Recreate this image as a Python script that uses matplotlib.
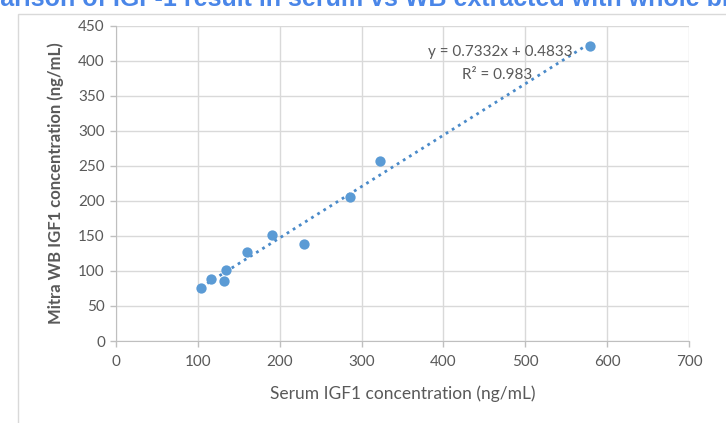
import matplotlib.pyplot as plt
from matplotlib.patches import Rectangle
import numpy as np

plt.rcParams['font.family'] = ['Lato', 'DejaVu Sans']

# serum vs whole-blood IGF1 (ng/mL)
serum_igf1 = [104, 116, 132, 134, 160, 191, 230, 286, 322, 579]
wb_igf1 = [76, 88, 86, 101, 127, 151, 139, 206, 257, 421]

x_ticks = [0, 100, 200, 300, 400, 500, 600, 700]
y_ticks = [0, 50, 100, 150, 200, 250, 300, 350, 400, 450]

slope, intercept = 0.7332, 0.4833
eq_text = "y = 0.7332x + 0.4833"
r2_text = "R² = 0.983"

grey = '#595959'
grid_col = '#d9d9d9'
blue = '#5b9bd5'

fig = plt.figure(figsize=(7.26, 4.23), dpi=100)

# chart border + cut-off slide title
fig.patches.append(Rectangle((18 / 726, -0.1), 1.2, 1 - 14 / 423 + 0.1,
                             transform=fig.transFigure, fill=False,
                             edgecolor='#d9d9d9', linewidth=1))
fig.text(-0.02, 1 - 6 / 423, "parison of IGF-1 result in serum vs WB extracted with whole bl",
         ha='left', va='baseline', fontsize=18, fontweight='bold', color='#4a86e8',
         family=['Liberation Sans', 'DejaVu Sans'])

ax = fig.add_axes([116 / 726, 1 - 341 / 423, (689 - 116) / 726, (341 - 25.7) / 423])

ax.scatter(serum_igf1, wb_igf1, s=55, color=blue, zorder=3, linewidths=0)

xs = np.array([min(serum_igf1), max(serum_igf1)])
ax.plot(xs, slope * xs + intercept, color='#4a8ac9', linestyle=(0, (1, 1.6)),
        linewidth=2, zorder=2)

ax.text(558, 412, eq_text, ha='right', va='center', fontsize=11, color=grey)
ax.text(466, 379, r2_text, ha='center', va='center', fontsize=11, color=grey)

ax.set_xlim(0, 700)
ax.set_ylim(0, 450)
ax.set_xticks(x_ticks)
ax.set_yticks(y_ticks)
ax.grid(True, color=grid_col, linewidth=1)
ax.set_axisbelow(True)

for side in ['top', 'right']:
    ax.spines[side].set_visible(False)
for side in ['left', 'bottom']:
    ax.spines[side].set_color('#bfbfbf')

ax.tick_params(axis='both', colors=grey, labelsize=11, length=4, width=1)
ax.tick_params(axis='x', pad=6, color='#bfbfbf')
ax.tick_params(axis='y', pad=4, color='#bfbfbf')

ax.set_xlabel("Serum IGF1 concentration (ng/mL)", fontsize=12.5, color=grey, labelpad=12)
ax.set_ylabel("Mitra WB IGF1 concentration (ng/mL)", fontsize=12, color=grey,
              fontweight='bold', labelpad=10)

fig.savefig("out.png", dpi=100)
